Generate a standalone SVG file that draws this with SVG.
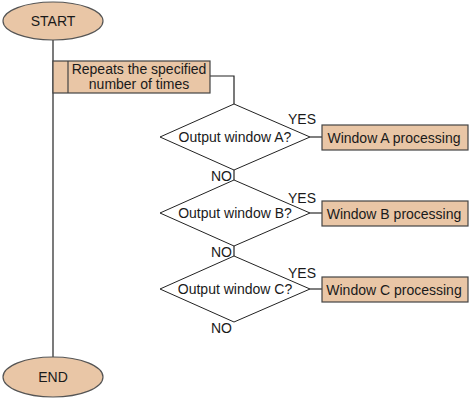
<svg xmlns="http://www.w3.org/2000/svg" width="475" height="400" viewBox="0 0 475 400">
<style>
.t{font-family:"Liberation Sans",Arial,sans-serif;font-size:14px;fill:#1a1a1a}
.m{text-anchor:middle}
.term{fill:#E9C6A6;stroke:#555;stroke-width:1.2}
.box{fill:#E9C6A6;stroke:#444;stroke-width:1.2}
.dia{fill:#fff;stroke:#222;stroke-width:1}
.ln{fill:none;stroke:#222;stroke-width:1.2}
.gl{fill:none;stroke:#555;stroke-width:1.5}
</style>
<rect width="475" height="400" fill="#fff"/>
<g id="connectors">
<line class="ln" x1="53" y1="40" x2="53" y2="357"/>
<polyline class="ln" points="210,76 234,76 234,104"/>
<line class="ln" x1="234" y1="170" x2="234" y2="180"/>
<line class="ln" x1="234" y1="246" x2="234" y2="256"/>
<line class="gl" x1="310" y1="137" x2="322" y2="137"/>
<line class="gl" x1="310" y1="213" x2="322" y2="213"/>
<line class="gl" x1="310" y1="289" x2="322" y2="289"/>
</g>
<g id="start">
<ellipse class="term" cx="53" cy="21" rx="50" ry="19"/>
<text class="t m" x="53" y="26">START</text>
</g>
<g id="loop">
<rect class="box" x="53" y="61" width="157" height="32"/>
<line class="box" x1="68" y1="61" x2="68" y2="93"/>
<text class="t m" x="139" y="74">Repeats the specified</text>
<text class="t m" x="139" y="89">number of times</text>
</g>
<g id="decA">
<polygon class="dia" points="234,104 310,137 234,170 160,137"/>
<text class="t m" x="235" y="142">Output window A?</text>
<text class="t" x="288" y="124">YES</text>
<text class="t" x="211" y="181">NO</text>
</g>
<g id="procA">
<rect class="box" x="322" y="125" width="146" height="25"/>
<text class="t m" x="394" y="143">Window A processing</text>
</g>
<g id="decB">
<polygon class="dia" points="234,180 310,213 234,246 160,213"/>
<text class="t m" x="235" y="218">Output window B?</text>
<text class="t" x="288" y="203">YES</text>
<text class="t" x="211" y="257">NO</text>
</g>
<g id="procB">
<rect class="box" x="322" y="201" width="146" height="25"/>
<text class="t m" x="394" y="219">Window B processing</text>
</g>
<g id="decC">
<polygon class="dia" points="234,256 310,289 234,322 160,289"/>
<text class="t m" x="235" y="294">Output window C?</text>
<text class="t" x="288" y="278">YES</text>
<text class="t" x="211" y="333">NO</text>
</g>
<g id="procC">
<rect class="box" x="322" y="277" width="146" height="25"/>
<text class="t m" x="394" y="295">Window C processing</text>
</g>
<g id="end">
<ellipse class="term" cx="53" cy="377" rx="50" ry="20"/>
<text class="t m" x="53" y="382">END</text>
</g>
</svg>
